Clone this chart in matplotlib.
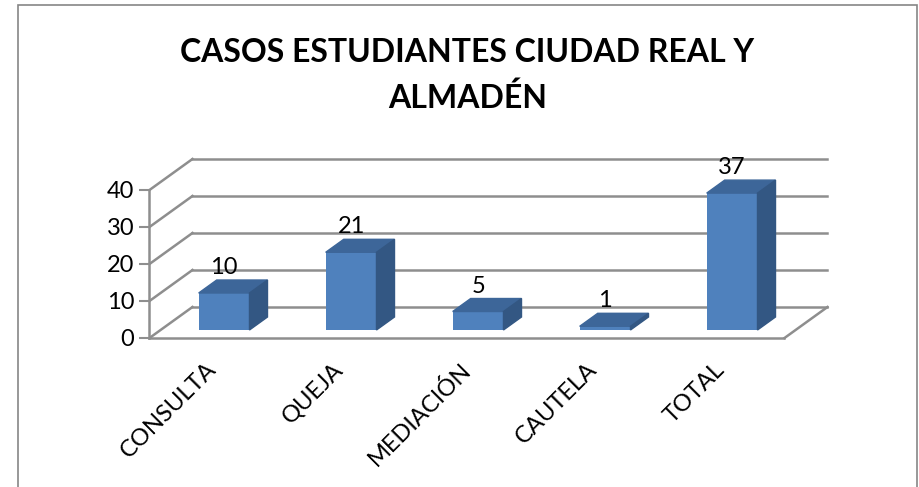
import numpy as np
import matplotlib
matplotlib.use('Agg')
import matplotlib.pyplot as plt
from matplotlib.patches import Polygon, Rectangle

plt.rcParams['font.family'] = ['Lato', 'DejaVu Sans']

categories = ['CONSULTA', 'QUEJA', 'MEDIACIÓN', 'CAUTELA', 'TOTAL']
values = [10, 21, 5, 1, 37]
yticks = [0, 10, 20, 30, 40]
title = 'CASOS ESTUDIANTES CIUDAD REAL Y\nALMADÉN'

# pseudo 3d geometry (data units)
DX = 0.3386   # depth shift along x (category units)
DV = 8.38     # depth shift along y (value units)
d0 = 0.258    # bar front depth
d1 = 0.677    # bar back depth
bw = 0.40     # bar width

front = '#4F81BD'
top_c = '#3D6699'
side_c = '#335783'
grid_c = '#8e8e8e'

fig = plt.figure(figsize=(9.2, 4.87), dpi=100)
ax = fig.add_axes([0, 0, 1, 1])
ax.set_xlim(-1.677, 5.567)
ax.set_ylim(-40.27, 91.35)
ax.patch.set_alpha(0)

x = np.arange(len(categories))
x0, x1 = -0.5, len(categories) - 0.5

# walls and floor
for k in yticks:
    ax.plot([x0, x0 + DX], [k, k + DV], color=grid_c, lw=1.8, zorder=1)
    ax.plot([x0 + DX, x1 + DX], [k + DV, k + DV], color=grid_c, lw=1.8, zorder=1)
ax.plot([x0, x1], [0, 0], color=grid_c, lw=1.8, zorder=1)
ax.plot([x1, x1 + DX], [0, DV], color=grid_c, lw=1.8, zorder=1)

# bars
xb = x + d0 * DX
base = d0 * DV
ax.bar(xb, values, bottom=base, width=bw, color=front, zorder=3)
dx, dv = (d1 - d0) * DX, (d1 - d0) * DV
for xi, v in zip(xb, values):
    l, r, t = xi - bw / 2, xi + bw / 2, base + v
    ax.add_patch(Polygon([(l, t), (r, t), (r + dx, t + dv), (l + dx, t + dv)],
                         closed=True, color=top_c, zorder=4))
    ax.add_patch(Polygon([(r, base), (r, t), (r + dx, t + dv), (r + dx, base + dv)],
                         closed=True, color=side_c, zorder=4))
    ax.text(xi, t + dv + 1.6, str(v), ha='center', va='baseline',
            fontsize=17, color='black', zorder=5)

# y axis
for s in ['top', 'right', 'bottom']:
    ax.spines[s].set_visible(False)
ax.spines['left'].set_position(('data', x0))
ax.spines['left'].set_bounds(0, 40)
ax.spines['left'].set_color(grid_c)
ax.spines['left'].set_linewidth(1.8)
ax.set_yticks(yticks)
ax.tick_params(axis='y', direction='out', length=7, width=1.5, color=grid_c,
               labelsize=17, pad=4)
ax.set_xticks([])

# category labels
for xi, lab in zip(x, categories):
    ax.text(xi - 0.06, -5.6, lab, rotation=45, rotation_mode='anchor',
            ha='right', va='top', fontsize=17)

fig.text(0.508, 0.845, title, ha='center', va='center', fontsize=23,
         fontweight='bold', linespacing=1.6)

fig.add_artist(Rectangle((18 / 920, -0.1), (917 - 18) / 920, 1.1 - 5 / 487,
                         transform=fig.transFigure, fill=False,
                         edgecolor='#868686', lw=1.2))

fig.savefig('out.png', dpi=100)
